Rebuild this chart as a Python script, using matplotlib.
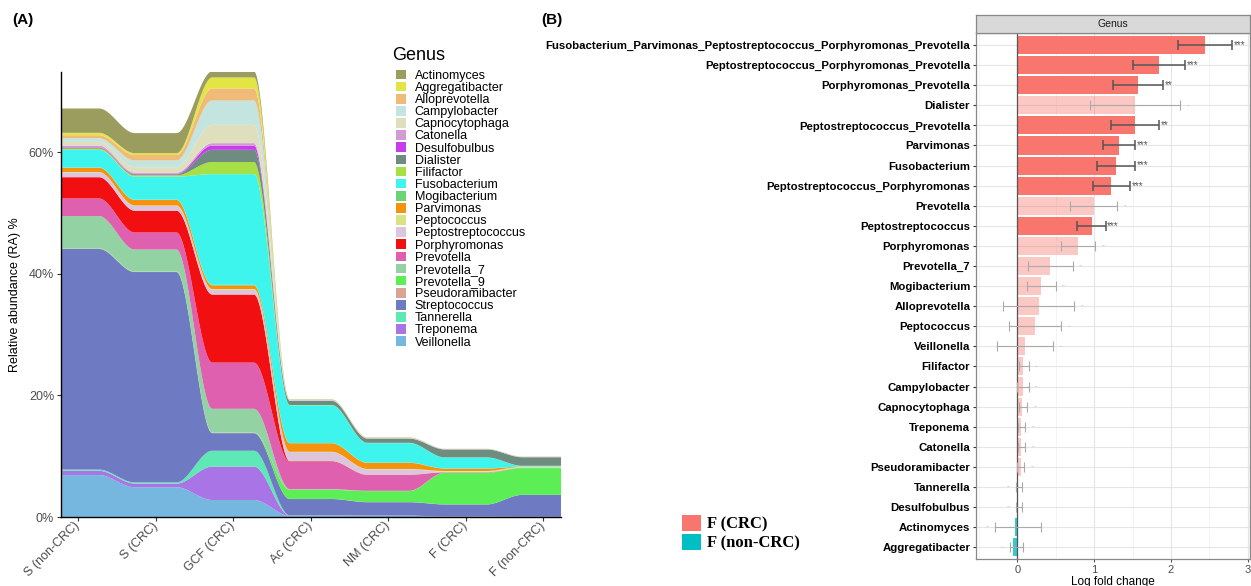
import numpy as np
import matplotlib.pyplot as plt
from matplotlib.patches import Patch

plt.rcParams['font.family'] = ['Liberation Sans', 'DejaVu Sans']

# ---------------- (A) relative abundance (%) per sample type ----------------
groups = ["S (non-CRC)", "S (CRC)", "GCF (CRC)", "Ac (CRC)", "NM (CRC)", "F (CRC)", "F (non-CRC)"]

# one list per genus, in the order of `groups`
actinomyces = [4.0, 3.3, 1.0, 0.05, 0.03, 0.02, 0.02]
aggregatibacter = [0.4, 0.3, 1.8, 0.02, 0.02, 0.01, 0.01]
alloprevotella = [0.5, 0.9, 2.0, 0.03, 0.03, 0.02, 0.02]
campylobacter = [0.6, 1.1, 4.0, 0.05, 0.05, 0.02, 0.02]
capnocytophaga = [0.6, 0.9, 3.0, 0.03, 0.03, 0.01, 0.01]
catonella = [0.3, 0.2, 0.4, 0.02, 0.02, 0.01, 0.01]
desulfobulbus = [0.1, 0.1, 0.7, 0.01, 0.01, 0.01, 0.01]
dialister = [0.1, 0.15, 2.0, 0.7, 0.7, 1.3, 1.4]
filifactor = [0.2, 0.2, 2.0, 0.05, 0.05, 0.02, 0.02]
fusobacterium = [2.9, 3.8, 18.2, 6.2, 3.2, 1.8, 0.1]
mogibacterium = [0.05, 0.05, 0.1, 0.05, 0.05, 0.02, 0.02]
parvimonas = [0.7, 0.9, 0.6, 1.4, 1.0, 0.4, 0.02]
peptococcus = [0.05, 0.05, 0.1, 0.05, 0.05, 0.1, 0.15]
peptostreptococcus = [0.8, 0.8, 0.8, 1.5, 0.9, 0.1, 0.02]
porphyromonas = [3.5, 3.6, 11.2, 0.1, 0.05, 0.02, 0.01]
prevotella = [2.9, 2.8, 7.6, 4.5, 2.6, 0.05, 0.02]
prevotella_7 = [5.3, 3.6, 3.9, 0.1, 0.05, 0.02, 0.02]
prevotella_9 = [0.05, 0.05, 0.05, 1.5, 1.8, 5.2, 4.4]
pseudoramibacter = [0.05, 0.05, 0.05, 0.02, 0.02, 0.01, 0.01]
streptococcus = [36.3, 34.6, 2.9, 2.7, 2.2, 2.0, 3.6]
tannerella = [0.2, 0.2, 2.6, 0.03, 0.02, 0.01, 0.01]
treponema = [0.7, 0.6, 5.5, 0.03, 0.02, 0.01, 0.01]
veillonella = [6.9, 4.9, 2.8, 0.2, 0.2, 0.05, 0.02]

genera = ["Actinomyces", "Aggregatibacter", "Alloprevotella", "Campylobacter", "Capnocytophaga",
          "Catonella", "Desulfobulbus", "Dialister", "Filifactor", "Fusobacterium", "Mogibacterium",
          "Parvimonas", "Peptococcus", "Peptostreptococcus", "Porphyromonas", "Prevotella",
          "Prevotella_7", "Prevotella_9", "Pseudoramibacter", "Streptococcus", "Tannerella",
          "Treponema", "Veillonella"]
genus_values = [actinomyces, aggregatibacter, alloprevotella, campylobacter, capnocytophaga,
                catonella, desulfobulbus, dialister, filifactor, fusobacterium, mogibacterium,
                parvimonas, peptococcus, peptostreptococcus, porphyromonas, prevotella,
                prevotella_7, prevotella_9, pseudoramibacter, streptococcus, tannerella,
                treponema, veillonella]
genus_colors = ["#9B9D5F", "#E3E544", "#F0BB78", "#C4E4E0", "#E0DFBD",
                "#D19CD6", "#C83CEB", "#6E8C80", "#A6E046", "#3EF5EE", "#6DD475",
                "#F5930F", "#DAE384", "#DCC6DE", "#F20F12", "#E060B0",
                "#93D3A3", "#5CEE55", "#D9A495", "#6E7BC3", "#5DE8B5",
                "#A874E6", "#76B7E0"]

# ---------------- (B) log fold change F (CRC) vs F (non-CRC) ----------------
lfc_labels = ["Fusobacterium_Parvimonas_Peptostreptococcus_Porphyromonas_Prevotella",
              "Peptostreptococcus_Porphyromonas_Prevotella", "Porphyromonas_Prevotella",
              "Dialister", "Peptostreptococcus_Prevotella", "Parvimonas", "Fusobacterium",
              "Peptostreptococcus_Porphyromonas", "Prevotella", "Peptostreptococcus",
              "Porphyromonas", "Prevotella_7", "Mogibacterium", "Alloprevotella", "Peptococcus",
              "Veillonella", "Filifactor", "Campylobacter", "Capnocytophaga", "Treponema",
              "Catonella", "Pseudoramibacter", "Tannerella", "Desulfobulbus", "Actinomyces",
              "Aggregatibacter"]
lfc = [2.44, 1.85, 1.57, 1.53, 1.53, 1.32, 1.29, 1.22, 1.00, 0.97, 0.79, 0.43, 0.31,
       0.28, 0.23, 0.10, 0.07, 0.07, 0.06, 0.05, 0.05, 0.05, -0.01, -0.01, -0.03, -0.05]
lfc_lo = [2.09, 1.51, 1.24, 0.95, 1.22, 1.11, 1.04, 0.98, 0.69, 0.78, 0.57, 0.14, 0.13,
          -0.18, -0.11, -0.26, 0.02, -0.01, 0.02, 0.01, 0.01, -0.01, -0.02, -0.02, -0.29, -0.10]
lfc_hi = [2.80, 2.18, 1.90, 2.12, 1.85, 1.53, 1.53, 1.47, 1.30, 1.15, 1.01, 0.72, 0.50,
          0.74, 0.57, 0.47, 0.15, 0.15, 0.13, 0.10, 0.10, 0.09, 0.06, 0.06, 0.31, 0.08]
signif = ["***", "***", "**", "-", "**", "***", "***", "***", "-", "***", "-", "-", "-",
          "-", "-", "-", "-", "-", "-", "-", "-", "-", "-", "-", "-", "-"]


def stream_profile(vals, xs, flat=0.27):
    """Flat plateau around each group, smooth S-shaped ramp in between."""
    vals = np.asarray(vals, dtype=float)
    p = xs - 1
    left = np.clip(np.floor(p), 0, len(vals) - 2).astype(int)
    t = np.clip((p - left - flat) / (1 - 2 * flat), 0, 1)
    s = t * t * (3 - 2 * t)
    return vals[left] + (vals[left + 1] - vals[left]) * s


fig = plt.figure(figsize=(12.51, 5.86), dpi=100)

# ---------- panel A ----------
ax1 = fig.add_axes([0.0488, 0.1177, 0.3997, 0.7594])
xs = np.linspace(0.78, 7.23, 800)
# stack bottom -> top = reverse alphabetical
layers = [stream_profile(v, xs) for v in genus_values[::-1]]
ax1.stackplot(xs, layers, colors=genus_colors[::-1], linewidth=0)
ax1.set_xlim(0.78, 7.23)
ax1.set_ylim(0, 73.2)
ax1.set_xticks(range(1, len(groups) + 1))
ax1.set_xticklabels(groups, rotation=45, ha='right', va='center', rotation_mode='anchor',
                    fontsize=9, color='#4D4D4D')
ax1.set_yticks([0, 20, 40, 60])
ax1.set_yticklabels(["0%", "20%", "40%", "60%"], fontsize=9, color='#4D4D4D')
ax1.set_ylabel("Relative abundance (RA) %", fontsize=9, labelpad=6)
for side in ['top', 'right']:
    ax1.spines[side].set_visible(False)
for side in ['left', 'bottom']:
    ax1.spines[side].set_linewidth(1.0)
ax1.tick_params(length=3, width=0.8, color='#333333', pad=2)

# genus legend
fig.text(0.3135, 0.906, "Genus", fontsize=13, va='center', ha='left')
handles = [Patch(facecolor=c, edgecolor='none') for c in genus_colors]
fig.legend(handles, genera, loc='upper left', bbox_to_anchor=(0.3165, 0.881),
           frameon=False, fontsize=9, handlelength=0.8, handleheight=0.8,
           labelspacing=0.0, handletextpad=0.7, borderpad=0, borderaxespad=0)

# ---------- panel B ----------
ax2 = fig.add_axes([0.7800, 0.0456, 0.2193, 0.8981])
rows = np.arange(len(lfc_labels))
bar_colors = ["#F8766D" if v >= 0 else "#00BFC4" for v in lfc]
alphas = [1.0 if s != "-" else 0.4 for s in signif]
for r, v, c, a in zip(rows, lfc, bar_colors, alphas):
    ax2.barh(r, v, height=0.9, color=c, alpha=a if v >= 0 else 0.8, zorder=2)
for r, v, lo, hi, s in zip(rows, lfc, lfc_lo, lfc_hi, signif):
    strong = s != "-"
    ax2.errorbar(v, r, xerr=[[v - lo], [hi - v]], fmt='none',
                 ecolor='#555555' if strong else '#AAAAAA',
                 elinewidth=1.1 if strong else 0.8, capsize=3.5,
                 capthick=1.1 if strong else 0.8, zorder=3)
    if strong:
        ax2.text(hi + 0.02, r, s, ha='left', va='center', fontsize=7, color='#555555', zorder=4)
    elif v >= 0:
        ax2.text(hi + 0.1, r, s, ha='center', va='center', fontsize=6, color='#BBBBBB', zorder=4)
    else:
        ax2.text(lo - 0.1, r, s, ha='center', va='center', fontsize=6, color='#BBBBBB', zorder=4)
ax2.axvline(0, color='#555555', lw=0.9, zorder=2.5)
ax2.set_xlim(-0.54, 3.03)
ax2.set_ylim(len(lfc_labels) - 0.4, -0.6)
ax2.set_yticks(rows)
ax2.set_yticklabels(lfc_labels, fontsize=8.2, fontweight='bold', color='black')
ax2.set_xticks([0, 1, 2, 3])
ax2.set_xticks([-0.5, 0.5, 1.5, 2.5], minor=True)
ax2.tick_params(axis='x', which='major', labelsize=8, labelcolor='#4D4D4D', length=2.5,
                color='#555555', pad=1.5)
ax2.tick_params(axis='x', which='minor', length=0)
ax2.tick_params(axis='y', length=2.5, color='#333333', pad=1.5)
ax2.grid(True, which='major', color='#E5E5E5', lw=0.8, zorder=0)
ax2.grid(True, which='minor', axis='x', color='#F0F0F0', lw=0.5, zorder=0)
ax2.set_axisbelow(True)
for sp in ax2.spines.values():
    sp.set_color('#888888')
    sp.set_linewidth(0.9)
ax2.set_xlabel("Log fold change", fontsize=8.5, labelpad=1)

# facet strip
strip = fig.add_axes([0.7800, 0.9437, 0.2193, 0.0307])
strip.set_facecolor('#D9D9D9')
strip.set_xticks([])
strip.set_yticks([])
for sp in strip.spines.values():
    sp.set_color('#888888')
    sp.set_linewidth(0.9)
strip.text(0.5, 0.5, "Genus", ha='center', va='center', fontsize=7.5, color='#1A1A1A',
           transform=strip.transAxes)

# legend for panel B
grp_handles = [Patch(facecolor="#F8766D"), Patch(facecolor="#00BFC4")]
fig.legend(grp_handles, ["F (CRC)", "F (non-CRC)"], loc='upper left',
           bbox_to_anchor=(0.5455, 0.122), frameon=False,
           prop={'family': 'Liberation Serif', 'weight': 'bold', 'size': 12},
           handlelength=1.1, handleheight=1.1, labelspacing=0.1, handletextpad=0.35,
           borderpad=0, borderaxespad=0)

fig.text(0.0096, 0.966, "(A)", fontsize=11, fontweight='bold', va='center')
fig.text(0.4325, 0.966, "(B)", fontsize=11, fontweight='bold', va='center')

fig.savefig("out.png", dpi=100)
